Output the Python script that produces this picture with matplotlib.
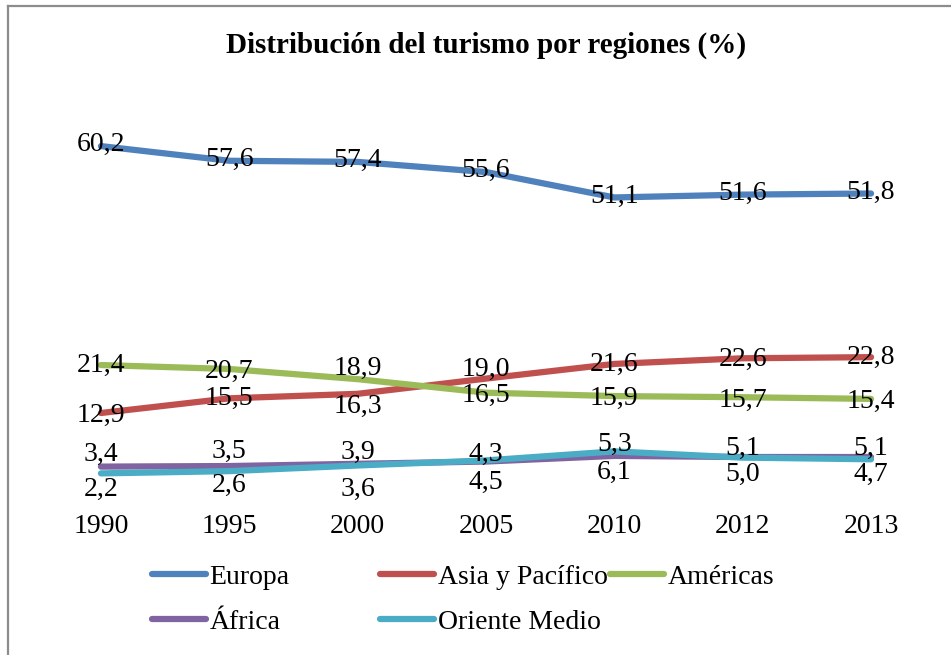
import numpy as np
import matplotlib.pyplot as plt
from matplotlib.lines import Line2D

# Data
years = ['1990', '1995', '2000', '2005', '2010', '2012', '2013']
europa = [60.2, 57.6, 57.4, 55.6, 51.1, 51.6, 51.8]
asia_pacifico = [12.9, 15.5, 16.3, 19.0, 21.6, 22.6, 22.8]
americas = [21.4, 20.7, 18.9, 16.5, 15.9, 15.7, 15.4]
africa = [3.4, 3.5, 3.9, 4.3, 5.3, 5.1, 5.1]
oriente_medio = [2.2, 2.6, 3.6, 4.5, 6.1, 5.0, 4.7]
names = ['Europa', 'Asia y Pacífico', 'Américas', 'África', 'Oriente Medio']

# Style
colors = ['#4F81BD', '#C0504D', '#9BBB59', '#8064A2', '#4BACC6']
# vertical offset of each data label (points), like Excel's manual label nudges
label_dy = [
  [1, 1, 1, 1, 1, 1, 1],
  [-2, 0, -9, 6.5, 0, -1, 0],
  [0, -2, 8, -2, -2, -2, -2],
  [8.5, 10.5, 8, 5, 8.5, 6.5, 6.5],
  [-11.5, -10, -17, -16, -15, -12, -11],
]
# legend entry anchors (figure pixels)
legend_pos = [(152, 577), (380, 577), (610, 577), (152, 622), (380, 622)]

W, H = 951, 655
plt.rcParams['font.family'] = ['Liberation Serif', 'DejaVu Serif']
fs = 20

fig = plt.figure(figsize=(W / 100, H / 100), dpi=100)
ax = fig.add_axes([36.8 / W, (H - 485.8) / H, (935.2 - 36.8) / W, 395 / H])

x = np.arange(len(years))
series = [europa, asia_pacifico, americas, africa, oriente_medio]
handles = []
for vals, name, col, dys in zip(series, names, colors, label_dy):
  ln, = ax.plot(x, vals, color=col, lw=4.5, solid_capstyle='round', label=name)
  handles.append(ln)
  for xi, v, dy in zip(x, vals, dys):
    ax.annotate(f'{v:.1f}'.replace('.', ','), (xi, v), xytext=(0, dy),
                textcoords='offset points', ha='center', va='center',
                fontsize=fs, color='black')

ax.set_xlim(-0.5, len(years) - 0.5)
ax.set_ylim(0, 70)
ax.set_xticks(x, years)
ax.set_yticks([])
ax.tick_params(axis='x', length=0, pad=20, labelsize=fs)
for s in ax.spines.values():
  s.set_visible(False)

# Title
fig.text(486 / W, 1 - 45 / H, 'Distribución del turismo por regiones (%)',
         ha='center', va='center', fontsize=21, fontweight='bold')

# Legend: one small legend per entry, at fixed column positions
for h, name, (px, py) in zip(handles, names, legend_pos):
  fig.legend([h], [name], loc='center left', bbox_to_anchor=(px / W, 1 - py / H),
             frameon=False, fontsize=fs, handlelength=1.95, handletextpad=0.12,
             borderpad=0, borderaxespad=0)

# Chart frame (cut off at the right and bottom in the reference)
fig.add_artist(Line2D([8 / W, 1], [1 - 6 / H, 1 - 6 / H], transform=fig.transFigure,
                      color='#8C8C8C', lw=1.6))
fig.add_artist(Line2D([8 / W, 8 / W], [0, 1 - 6 / H], transform=fig.transFigure,
                      color='#8C8C8C', lw=1.6))

fig.savefig('out.png', dpi=100)
